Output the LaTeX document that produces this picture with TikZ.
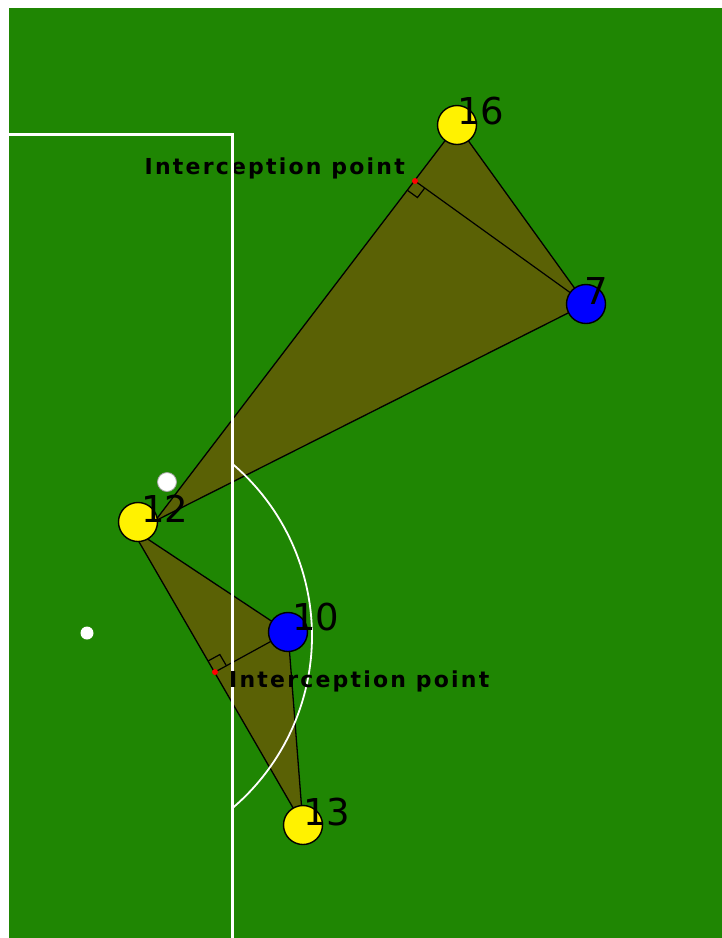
\documentclass[tikz,border=0pt]{standalone}
\usepackage{fontspec}
\setmainfont{DejaVu Sans}
\usetikzlibrary{calc}
\definecolor{pitchgreen}{RGB}{31,134,3}
\definecolor{zoneolive}{RGB}{90,97,5}
\definecolor{markred}{RGB}{255,0,0}

\tikzset{
  player/.style={circle,draw=black,line width=1.4pt,minimum size=39pt,inner sep=0pt},
  mate/.style={player,fill=yellow},
  rival/.style={player,fill=blue},
  shirt/.style={font=\fontsize{37}{37}\selectfont,anchor=base west,inner sep=0pt},
  iplabel/.style={font=\fontsize{22}{22}\selectfont\bfseries\addfontfeature{LetterSpace=10},inner sep=0pt},
  zone/.style={fill=zoneolive,draw=black,line width=1.3pt,line join=round},
  ramark/.style={draw=black,line width=1.2pt},
  pitchline/.style={white,line width=3pt}
}

\begin{document}
\begin{tikzpicture}[x=1pt,y=-1pt]
\useasboundingbox (0,0) rectangle (722,938);
% --- pitch ---
\fill[white] (0,0) rectangle (722,938);
\fill[pitchgreen] (9,8) rectangle (722,938);

% --- positions ---
\coordinate (p16) at (457,125);
\coordinate (p7) at (586,304);
\coordinate (p12) at (138,522);
\coordinate (p10) at (288,632);
\coordinate (p13) at (303,825);
\coordinate (kickA) at (155,521);
\coordinate (kickB) at (131,528);
\coordinate (ip1) at (415,181);
\coordinate (ip2) at (215,672);

% --- pass lanes ---
\path[zone] (kickA) -- (p16) -- (p7) -- cycle;
\path[zone] (kickB) -- (p10) -- (p13) -- cycle;
\draw[ramark] (p7) -- (ip1);
\draw[ramark] (p10) -- (ip2);

% right angles
\coordinate (r1a) at ($(ip1)!12pt!(kickA)$);
\coordinate (r1b) at ($(ip1)!12pt!(p7)$);
\draw[ramark] (r1a) -- ($(r1a)+(r1b)-(ip1)$) -- (r1b);
\coordinate (r2a) at ($(ip2)!13pt!(kickB)$);
\coordinate (r2b) at ($(ip2)!13pt!(p10)$);
\draw[ramark] (r2a) -- ($(r2a)+(r2b)-(ip2)$) -- (r2b);

\foreach \p in {ip1,ip2}{
  \fill[markred] (\p) circle (3);
}
\node[iplabel,anchor=base east] (lab1) at ($(ip1)+(-10,-7)$) {Interception point};

% --- box lines ---
\draw[pitchline] (9,134) -| (232,940);
\draw[white,line width=1.8pt] (86,636) ++(-49.5:226) arc[start angle=-49.5,end angle=49.5,radius=226];
\fill[white] (87,633) circle (6.5);

\node[iplabel,anchor=base west] (lab2) at ($(ip2)+(14,15)$) {Interception point};

% --- players ---
\foreach \n/\s in {16/mate,7/rival,12/mate,10/rival,13/mate}{
  \node[\s] (n\n) at (p\n) {};
}
\node[circle,fill=white,draw=gray!70,line width=0.8pt,minimum size=19pt,inner sep=0pt] (ball) at (167,482) {};

\node[shirt] (t16) at ($(p16)+(0,-1)$) {16};
\node[shirt] (t7) at ($(p7)+(-2,0)$) {7};
\node[shirt] (t12) at ($(p12)+(3,0)$) {12};
\node[shirt] (t10) at ($(p10)+(4,-2)$) {10};
\node[shirt] (t13) at ($(p13)+(0,0)$) {13};
\end{tikzpicture}
\end{document}
